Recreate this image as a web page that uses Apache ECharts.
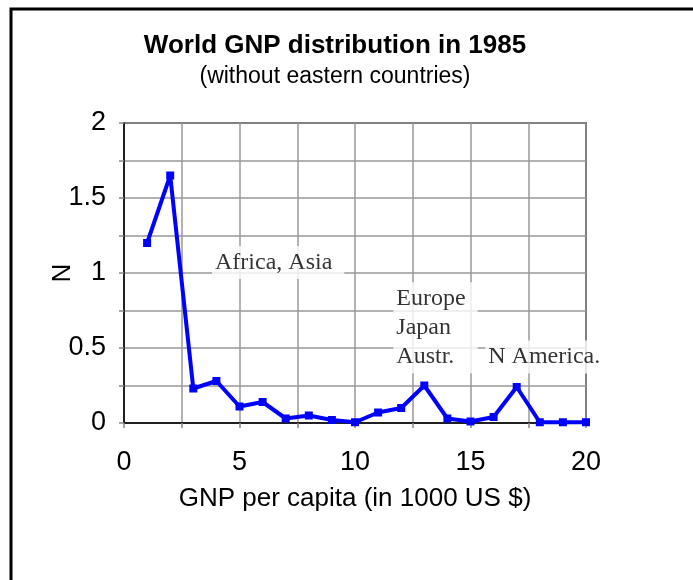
<!DOCTYPE html>
<html>
<head>
<meta charset="utf-8">
<title>World GNP distribution in 1985</title>
<script src="https://cdn.jsdelivr.net/npm/echarts@6/dist/echarts.min.js"></script>
<style>
  html, body { margin: 0; padding: 0; background: #fff; }
  #chart { width: 693px; height: 580px; }
</style>
</head>
<body>
<div id="chart"></div>
<script>
  // GNP per capita (1000 US $) and N
  var gnp = [1, 2, 3, 4, 5, 6, 7, 8, 9, 10, 11, 12, 13, 14, 15, 16, 17, 18, 19, 20];
  var counts = [1.2, 1.65, 0.23, 0.28, 0.11, 0.14, 0.03, 0.05, 0.02, 0.005, 0.07, 0.1, 0.25, 0.03, 0.01, 0.04, 0.24, 0.005, 0.005, 0.005];

  // region notes, placed in data coordinates (left edge of the text)
  var noteText = ['Africa, Asia', 'Europe\nJapan\nAustr.', 'N America.'];
  var noteX = [3.81, 11.66, 15.64];
  var noteY = [1.07, 0.635, 0.44];

  var chart = echarts.init(document.getElementById('chart'));

  var notes = noteText.map(function (t, i) {
    return { value: [noteX[i], noteY[i]], name: t };
  });

  var option = {
    animation: false,
    backgroundColor: '#fff',
    textStyle: { fontFamily: 'Liberation Sans, Arial, sans-serif' },
    title: {
      text: 'World GNP distribution in 1985',
      subtext: '(without eastern countries)',
      left: 330,
      top: 28,
      textAlign: 'center',
      itemGap: 6,
      textStyle: { fontSize: 26, fontWeight: 'bold', color: '#000' },
      subtextStyle: { fontSize: 23, color: '#000' }
    },
    graphic: [{
      type: 'rect',
      shape: { x: 11, y: 9, width: 900, height: 900 },
      style: { fill: null, stroke: '#000', lineWidth: 3 },
      silent: true
    }],
    grid: {
      left: 124,
      right: 107,
      top: 123,
      bottom: 157,
      show: true,
      borderColor: '#000',
      borderWidth: 1.5
    },
    xAxis: {
      type: 'value',
      min: 0,
      max: 20,
      interval: 2.5,
      name: 'GNP per capita (in 1000 US $)',
      nameLocation: 'middle',
      nameGap: 63,
      nameMoveOverlap: false,
      nameTextStyle: { fontSize: 26, color: '#000' },
      axisLine: { lineStyle: { color: '#000', width: 1.5 } },
      axisTick: { show: true, length: 5, lineStyle: { color: '#888', width: 1.5 } },
      axisLabel: {
        fontSize: 27, color: '#000', margin: 26,
        formatter: function (v) { return v % 5 === 0 ? String(v) : ''; }
      },
      splitLine: { show: true, lineStyle: { color: '#999', width: 1.5 } }
    },
    yAxis: {
      type: 'value',
      min: 0,
      max: 2,
      interval: 0.25,
      name: 'N',
      nameLocation: 'middle',
      nameGap: 48,
      nameMoveOverlap: false,
      nameTextStyle: { fontSize: 26, color: '#000' },
      axisLine: { show: true, lineStyle: { color: '#000', width: 1.5 } },
      axisTick: { show: true, length: 5, lineStyle: { color: '#888', width: 1.5 } },
      axisLabel: {
        fontSize: 27, color: '#000', margin: 18,
        formatter: function (v) { return Math.abs(v * 2 - Math.round(v * 2)) < 1e-9 ? String(v) : ''; }
      },
      splitLine: { show: true, lineStyle: { color: '#999', width: 1.5 } }
    },
    series: [{
      type: 'line',
      data: gnp.map(function (x, i) { return [x, counts[i]]; }),
      symbol: 'rect',
      symbolSize: 8,
      lineStyle: { color: '#0000ff', width: 4 },
      itemStyle: { color: '#0000ff' },
      z: 3
    }, {
      type: 'scatter',
      data: notes,
      symbolSize: 0,
      silent: true,
      z: 5,
      label: {
        show: true,
        position: 'inside',
        formatter: '{b}',
        fontFamily: 'Liberation Serif, Times New Roman, serif',
        fontSize: 24,
        lineHeight: 29,
        color: '#000',
        align: 'left',
        backgroundColor: '#fff',
        padding: [2, 12, 2, 3]
      }
    }]
  };

  chart.setOption(option);
</script>
</body>
</html>
